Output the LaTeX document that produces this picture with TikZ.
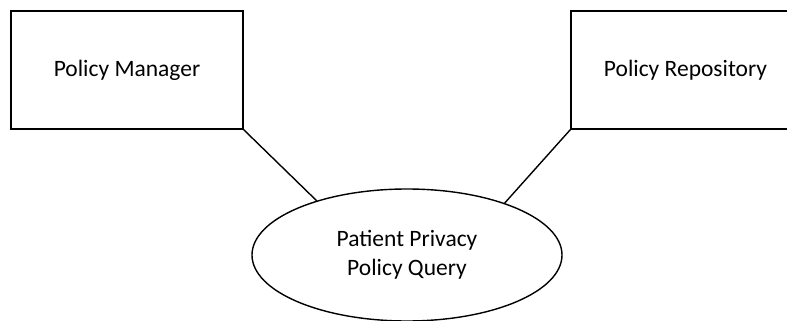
\documentclass[tikz,border=0pt]{standalone}
\usepackage{fontspec}
\setmainfont{Carlito}
\usetikzlibrary{shapes.geometric}
\begin{document}
\begin{tikzpicture}[x=1pt,y=-1pt,
    box/.style={draw,line width=1.4pt,minimum width=232pt,minimum height=118pt,inner sep=0pt},
    query/.style={draw,ellipse,line width=1.4pt,minimum width=310pt,minimum height=132pt,inner sep=0pt,align=center},
    every node/.style={font=\fontsize{23.5}{29}\selectfont}]
      \clip (0,0) rectangle (787,321);
      \useasboundingbox (0,0) rectangle (787,321);
      \node[box] (manager) at (127,70) {Policy Manager};
      \node[box,minimum width=229pt] (repository) at (685.5,70) {Policy Repository};
      \node[query] (query) at (407,255) {Patient Privacy\\Policy Query};
      \begin{scope}[line width=1.4pt]
        \draw (manager.south east) to (query.149);
        \draw (repository.south west) to (query.28);
      \end{scope}
    \end{tikzpicture}
\end{document}
